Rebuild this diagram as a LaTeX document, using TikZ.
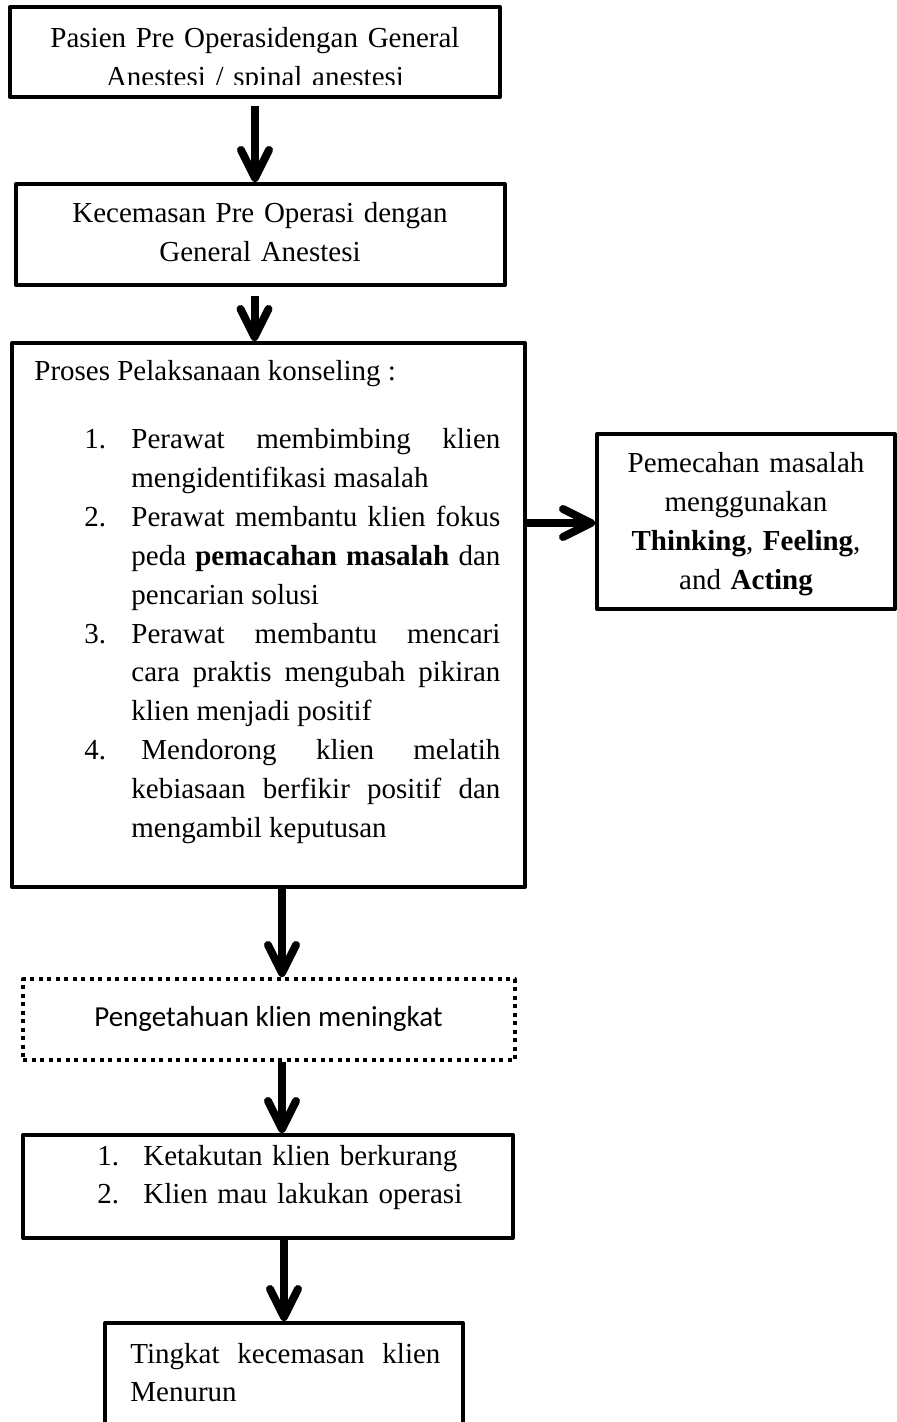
\documentclass[tikz,border=0pt]{standalone}
\usepackage{fontspec}
\setmainfont{Liberation Serif}
\newfontfamily\boxsans{Carlito}
\usetikzlibrary{arrows.meta}
\tikzset{
  box/.style={draw,line width=2pt,line join=round,inner sep=0pt},
  dotbox/.style={box,dash pattern=on 2pt off 2.25pt},
  txt/.style={inner sep=0pt,font=\fontsize{14.5}{19.4}\selectfont},
  arr/.style={line width=4pt,-{Straight Barb[length=14pt,width=14pt,line cap=round,line join=round]}},
}
\newcommand{\itemno}[1]{\makebox[23.5pt][l]{#1}}
\begin{document}
\begin{tikzpicture}[x=0.5pt,y=-0.5pt]
\path[use as bounding box,clip] (0,0) rectangle (897,1422);
% boxes
\node[box,minimum width=245pt,minimum height=45pt] (pasien) at (255,52) {};
\node[box,minimum width=244.5pt,minimum height=50.5pt] (cemas) at (260.5,234.5) {};
\node[box,minimum width=256.5pt,minimum height=272pt] (proses) at (268.5,615) {};
\node[box,minimum width=149pt,minimum height=87.5pt] (solusi) at (746,521.5) {};
\node[dotbox,minimum width=246pt,minimum height=40.5pt] (tahu) at (269,1019.5) {};
\node[box,minimum width=245pt,minimum height=51.5pt] (takut) at (268,1186.5) {};
\node[box,minimum width=179pt,minimum height=65pt] (turun) at (284,1388) {};
% texts
\begin{scope}
  \clip (pasien.north west) rectangle (500,85);
  \node[txt,text width=245pt,align=center,anchor=base] (pasientxt) at (255,48)
    {Pasien Pre Operasidengan General\\Anestesi / spinal anestesi};
\end{scope}
\node[txt,text width=245pt,align=center,anchor=base] (cemastxt) at (260,223)
  {Kecemasan Pre Operasi dengan\\General Anestesi};
\node[txt,anchor=base west] (prosestxt) at (34,381) {Proses Pelaksanaan konseling :};
\node[txt,text width=208pt,align=justify,anchor=base west] (langkah) at (84,449)
  {\tolerance=10000\hyphenpenalty=10000\hangindent=23.5pt\hangafter=1
   \itemno{1.}Perawat membimbing klien\linebreak mengidentifikasi masalah\par
   \hangindent=23.5pt\hangafter=1
   \itemno{2.}Perawat membantu klien fokus\linebreak peda \textbf{pemacahan masalah} dan\linebreak pencarian solusi\par
   \hangindent=23.5pt\hangafter=1
   \itemno{3.}Perawat membantu mencari\linebreak cara praktis mengubah pikiran\linebreak klien menjadi positif\par
   \hangindent=23.5pt\hangafter=1
   \itemno{4.}\hspace{5pt}Mendorong klien melatih\linebreak kebiasaan berfikir positif dan\linebreak mengambil keputusan\par};
\node[txt,text width=145pt,align=center,anchor=base] (solusitxt) at (746,473)
  {Pemecahan masalah\\menggunakan\\\textbf{Thinking}, \textbf{Feeling},\\and \textbf{Acting}};
\node[txt,font=\boxsans\fontsize{14.5}{19.4}\selectfont,anchor=base] (tahutxt) at (268.5,1026)
  {Pengetahuan klien meningkat};
\node[txt,text width=200pt,align=left,anchor=base west] (takuttxt) at (97,1165)
  {\makebox[23pt][l]{1.}Ketakutan klien berkurang\\\makebox[23pt][l]{2.}Klien mau lakukan operasi};
\node[txt,text width=155pt,align=justify,anchor=base west] (turuntxt) at (130,1363)
  {\tolerance=10000 Tingkat kecemasan klien\linebreak Menurun};
% arrows
\draw[arr] ([yshift=-3.5pt]pasien.south) -- (pasien.south |- cemas.north);
\draw[arr] ([xshift=-3pt,yshift=-4.5pt]cemas.south) -- ([xshift=-3pt]cemas.south |- proses.north);
\draw[arr] ([yshift=46pt]proses.east) -- ([yshift=46pt]proses.east -| solusi.west);
\draw[arr] ([xshift=6.75pt]proses.south) -- ([xshift=6.75pt]proses.south |- tahu.north);
\draw[arr] ([xshift=6.5pt]tahu.south) -- ([xshift=6.5pt]tahu.south |- takut.north);
\draw[arr] ([xshift=8pt]takut.south) -- ([xshift=8pt]takut.south |- turun.north);
\end{tikzpicture}
\end{document}
